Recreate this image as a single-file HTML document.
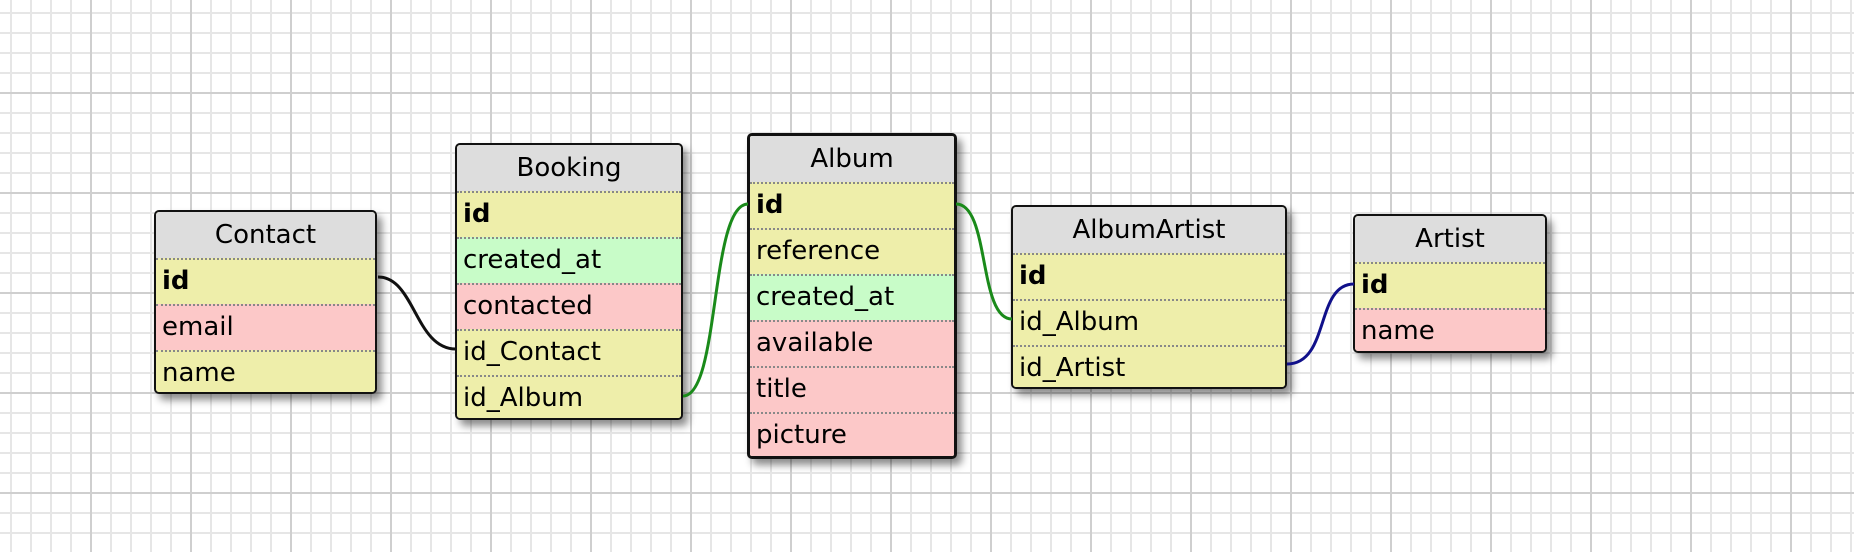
<!DOCTYPE html>
<html><head><meta charset="utf-8"><style>
html,body{margin:0;padding:0;}
body{width:1854px;height:552px;position:relative;overflow:hidden;background:#fff;font-family:"DejaVu Sans","Liberation Sans",sans-serif;}
.t{position:absolute;box-sizing:border-box;border:2px solid #111;border-radius:5px;box-shadow:5px 6px 8px rgba(0,0,0,0.45);overflow:hidden;background:#eeeeaa;}
.h{height:46px;background:#dddddd;text-align:center;font-size:26px;line-height:46px;color:#000;box-sizing:border-box;}
.r{height:46px;box-sizing:border-box;border-top:2px dotted #888;font-size:26px;line-height:42px;padding-left:6px;color:#000;white-space:nowrap;}
.y{background:#eeeeaa}.g{background:#c8fcc8}.p{background:#fcc8c8}
.b{font-weight:bold}
svg{position:absolute;left:0;top:0}
</style></head><body>
<svg width="1854" height="552">
<defs>
<pattern id="mi" width="20" height="20" patternUnits="userSpaceOnUse" x="1" y="3">
<path d="M10 0V20M0 10H20" stroke="#e6e6e6" stroke-width="2" fill="none"/>
</pattern>
<pattern id="ma" width="100" height="100" patternUnits="userSpaceOnUse" x="41" y="43">
<path d="M50 0V100M0 50H100" stroke="#cfcfcf" stroke-width="2" fill="none"/>
</pattern>
</defs>
<rect width="1854" height="552" fill="url(#mi)"/>
<rect width="1854" height="552" fill="url(#ma)"/>
</svg>

<div class="t" style="left:154px;top:210px;width:223px;height:184px">
<div class="h">Contact</div>
<div class="r y b">id</div><div class="r p">email</div><div class="r y">name</div>
</div>

<div class="t" style="left:455px;top:143px;width:228px;height:277px">
<div class="h">Booking</div>
<div class="r y b">id</div><div class="r g">created_at</div><div class="r p">contacted</div><div class="r y">id_Contact</div><div class="r y">id_Album</div>
</div>

<div class="t" style="left:747px;top:133px;width:210px;height:326px;border-width:3px">
<div class="h">Album</div>
<div class="r y b">id</div><div class="r y">reference</div><div class="r g">created_at</div><div class="r p">available</div><div class="r p">title</div><div class="r p">picture</div>
</div>

<div class="t" style="left:1011px;top:205px;width:276px;height:184px">
<div class="h">AlbumArtist</div>
<div class="r y b">id</div><div class="r y">id_Album</div><div class="r y">id_Artist</div>
</div>

<div class="t" style="left:1353px;top:214px;width:194px;height:139px">
<div class="h">Artist</div>
<div class="r y b">id</div><div class="r p">name</div>
</div>

<svg width="1854" height="552" style="pointer-events:none">
<path d="M378 277 C415 277,415 349,456 349" stroke="#111" stroke-width="3" fill="none"/>
<path d="M683 396 C720 396,710 204,748 204" stroke="#1a8a1a" stroke-width="3" fill="none"/>
<path d="M956 204 C990 204,978 319,1012 319" stroke="#1a8a1a" stroke-width="3" fill="none"/>
<path d="M1287 364 C1330 364,1315 284,1354 284" stroke="#10108a" stroke-width="3" fill="none"/>
</svg>
</body></html>
